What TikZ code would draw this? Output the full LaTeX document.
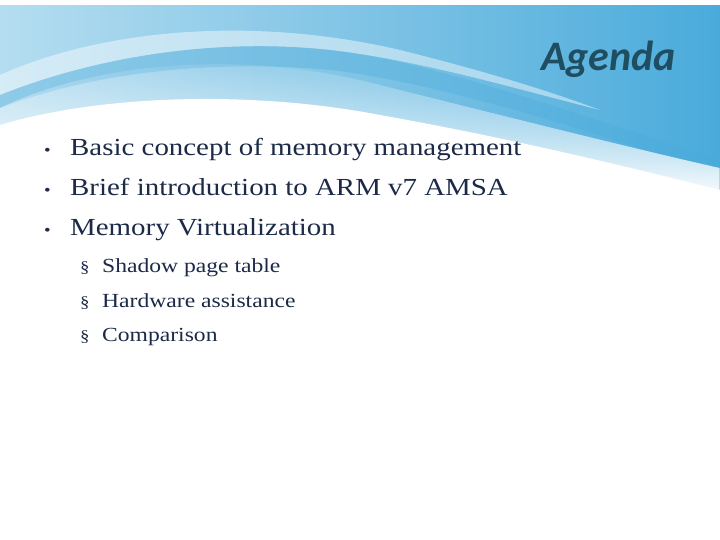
\documentclass[tikz,border=0pt]{standalone}
\usepackage{fontspec}
\setmainfont[FakeStretch=1.18]{Liberation Serif}
\newfontfamily\titlefont{Carlito}
\usetikzlibrary{fadings}
\definecolor{txt}{HTML}{1C2A48}
\definecolor{ttl}{HTML}{1F4E63}
\definecolor{wblue}{HTML}{4AABDB}
\definecolor{lblue}{HTML}{B5DDF0}
\tikzset{item/.style={anchor=base west,text=txt,font=\fontsize{24.5}{26}\selectfont,inner sep=0},
sub/.style={anchor=base west,text=txt,font=\fontsize{20}{22}\selectfont,inner sep=0},
bulletmark/.style={anchor=base west,text=txt,font=\fontsize{16}{18}\selectfont,inner sep=0}}
\begin{document}
\begin{tikzpicture}[x=1pt,y=-1pt]
\useasboundingbox (0,0) rectangle (720,540);
\fill[white] (0,0) rectangle (720,540);
\shade[left color=lblue,right color=wblue] (0,6) rectangle (720,200);
\fill[white,opacity=0.45] (0,75) .. controls (100,30) and (250,15) .. (400,50) .. controls (500,75) and (560,95) .. (600,110) .. controls (520,90) and (420,60) .. (330,50) .. controls (220,38) and (100,55) .. (0,95) -- cycle;
\fill[wblue,opacity=0.35] (0,95) .. controls (100,55) and (220,38) .. (330,50) .. controls (420,60) and (520,95) .. (720,160) -- (720,175) .. controls (560,120) and (420,80) .. (330,70) .. controls (220,60) and (100,70) .. (0,108) -- cycle;
\fill[white,path fading=north] (0,108) .. controls (100,60) and (250,50) .. (380,85) .. controls (520,120) and (640,150) .. (720,168) -- (720,200) -- (0,200) -- cycle;
\fill[white] (0,125) .. controls (100,95) and (250,90) .. (380,115) .. controls (520,140) and (640,170) .. (720,190) -- (720,540) -- (0,540) -- cycle;
\node[anchor=base east,text=ttl,font=\titlefont\fontsize{42}{44}\selectfont\bfseries\itshape,inner sep=0] (title) at (676,71) {Agenda};
\node[bulletmark] (b1) at (44,156) {\textbullet};
\node[item] (i1) at (70,156) {Basic concept of memory management};
\node[bulletmark] (b2) at (44,196) {\textbullet};
\node[item] (i2) at (70,196) {Brief introduction to ARM v7 AMSA};
\node[bulletmark] (b3) at (44,236) {\textbullet};
\node[item] (i3) at (70,236) {Memory Virtualization};
\node[bulletmark] (s1b) at (80,272) {\S};
\node[sub] (s1) at (102,272) {Shadow page table};
\node[bulletmark] (s2b) at (80,307) {\S};
\node[sub] (s2) at (102,307) {Hardware assistance};
\node[bulletmark] (s3b) at (80,341) {\S};
\node[sub] (s3) at (102,341) {Comparison};
\end{tikzpicture}
\end{document}
